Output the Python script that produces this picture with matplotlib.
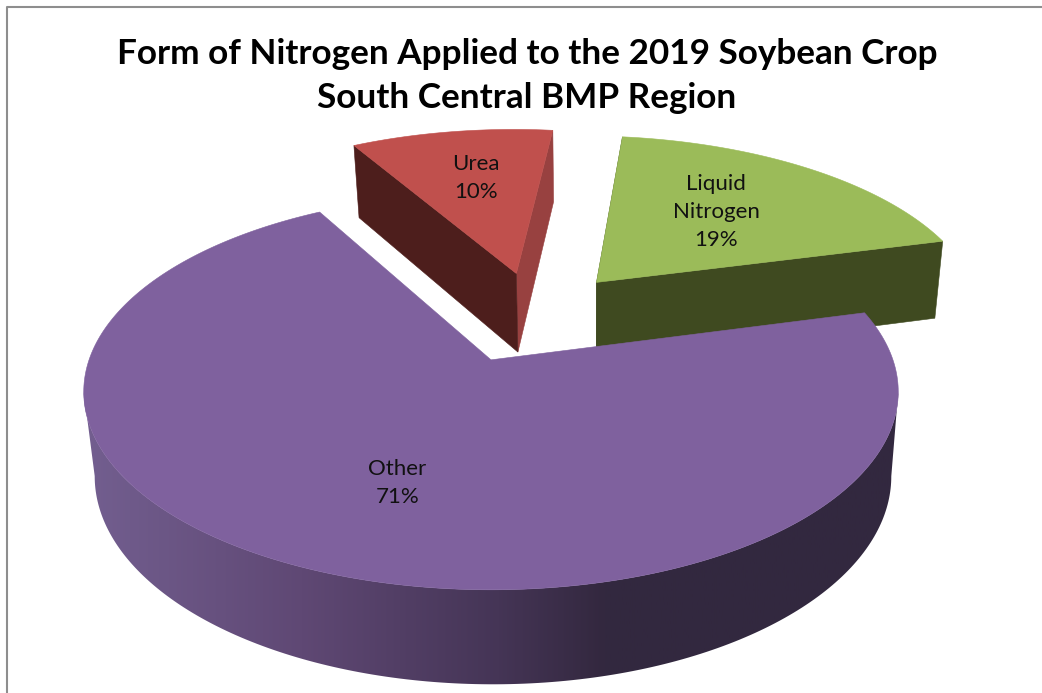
import numpy as np
import matplotlib
matplotlib.use("Agg")
import matplotlib.pyplot as plt
from matplotlib.colors import LinearSegmentedColormap
from matplotlib.patches import Polygon

# dados da pizza
categorias = ["Urea", "Liquid\nNitrogen", "Other"]
valores = [10, 19, 71]
rotulos = ["10%", "19%", "71%"]
titulo = "Form of Nitrogen Applied to the 2019 Soybean Crop\nSouth Central BMP Region"

# estilo de cada fatia
cor_topo = ["#c0504d", "#9bbb59", "#7f619e"]
cor_corte_esq = ["#4d1e1c", "#3f4a20", "#3a2d4f"]
cor_corte_dir = ["#984140", "#3f4a20", "#3a2d4f"]
raio_rotulo = [0.6, 0.53, 0.6]
ajuste_fatia = [(6, 2), (3, 1), (0, 0)]  # pixels
ajuste_rotulo = [(1, -6), (2, -7), (10, 6)]  # pixels

# projecao em perspectiva do disco
CX, CY = 491, 360
RX, RY = 402, 193
K = 0.161
ESCALA_BASE = 0.978
DESVIO_BASE = 2
ALTURA = 83
QUEDA = 0.05
INICIO = 119.1  # angulo da primeira fatia, sentido horario
CENTRO = (0.102, 0.24)
EXPLODE = 0.26

degrade_lateral = LinearSegmentedColormap.from_list(
    "lateral",
    [(0.0, "#735f90"), (0.27, "#5f4874"), (0.51, "#453556"), (0.64, "#33283f"), (1.0, "#32283f")],
)


def projetar(u, v):
    w = 1 + K * v
    return RX * u / w, RY * v / w


def topo(x, y):
    return CX + x, CY - y


def base(x, y):
    return CX + DESVIO_BASE + ESCALA_BASE * x, CY - y + ALTURA - QUEDA * y


def poligono(ax, xs, ys, cor):
    ax.fill(xs, ys, color=cor, lw=0.4)


fig = plt.figure(figsize=(10.42, 6.93), dpi=100)
ax = fig.add_axes([0, 0, 1, 1])

ax.plot([7, 7, 1042], [693, 7, 7], color="#8e8e8e", lw=1.5, solid_capstyle="butt")

total = sum(valores)
angulo = INICIO

for i, valor in enumerate(valores):
    varredura = 360 * valor / total
    a_ini = angulo
    a_fim = angulo - varredura
    a_meio = np.radians((a_ini + a_fim) / 2)
    du = CENTRO[0] + EXPLODE * np.cos(a_meio)
    dv = CENTRO[1] + EXPLODE * np.sin(a_meio)
    ox, oy = ajuste_fatia[i]

    t = np.radians(np.linspace(a_ini, a_fim, 300))
    x, y = projetar(du + np.cos(t), dv + np.sin(t))
    x0, y0 = projetar(du, dv)
    tx, ty = topo(x, y)
    bx, by = base(x, y)
    ax0, ay0 = topo(x0, y0)
    bx0, by0 = base(x0, y0)
    tx, bx, ax0, bx0 = tx + ox, bx + ox, ax0 + ox, bx0 + ox
    ty, by, ay0, by0 = ty + oy, by + oy, ay0 + oy, by0 + oy

    # parede externa com degrade, so a parte da frente
    if categorias[i] == "Other":
        gradiente = ax.imshow(
            np.linspace(0, 1, 400).reshape(1, -1),
            cmap=degrade_lateral,
            extent=[80, 900, 693, 0],
            aspect="auto",
            zorder=1,
        )
        dir_, esq = np.argmax(tx), np.argmin(tx)
        parede = Polygon(
            np.c_[
                np.r_[tx[dir_:esq + 1], bx[dir_:esq + 1][::-1]],
                np.r_[ty[dir_:esq + 1], by[dir_:esq + 1][::-1]],
            ],
            closed=True,
            transform=ax.transData,
        )
        gradiente.set_clip_path(parede)
    else:
        # cortes radiais
        poligono(ax, [ax0, tx[-1], bx[-1], bx0], [ay0, ty[-1], by[-1], by0], cor_corte_dir[i])
        poligono(ax, [ax0, tx[0], bx[0], bx0], [ay0, ty[0], by[0], by0], cor_corte_esq[i])

    ax.fill(np.r_[ax0, tx], np.r_[ay0, ty], color=cor_topo[i], lw=0.4, zorder=2)

    # rotulo
    lx, ly = projetar(du + raio_rotulo[i] * np.cos(a_meio), dv + raio_rotulo[i] * np.sin(a_meio))
    lx, ly = topo(lx, ly)
    ax.text(
        lx + ox + ajuste_rotulo[i][0], ly + oy + ajuste_rotulo[i][1],
        f"{categorias[i]}\n{rotulos[i]}",
        ha="center", va="center", fontsize=16, family="Lato", color="#111111",
        linespacing=1.5, zorder=3,
    )

    angulo = a_fim

ax.text(
    527, 76, titulo, ha="center", va="center", fontsize=25.3, family="Lato",
    fontweight="bold", color="black", linespacing=1.48, zorder=3,
)

ax.set_xlim(0, 1042)
ax.set_ylim(693, 0)
ax.axis("off")

fig.savefig("out.png", dpi=100)
plt.close(fig)
